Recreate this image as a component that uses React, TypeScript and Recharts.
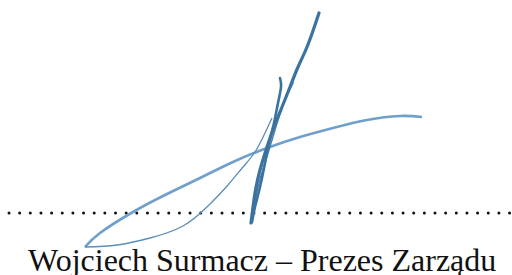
import React from 'react';
import { LineChart, Line, XAxis, YAxis, ReferenceLine } from 'recharts';

// signature strokes in pixel coordinates (y grows down)
const mainStroke = [
  { x: 319, y: 13 }, { x: 315, y: 25 }, { x: 307, y: 47 }, { x: 298, y: 67 },
  { x: 290, y: 87 }, { x: 282, y: 107 }, { x: 274, y: 127 }, { x: 267, y: 147 },
  { x: 260, y: 170 }, { x: 255, y: 193 }, { x: 251, y: 223 },
];
const hookStroke = [
  { x: 280, y: 78 }, { x: 281, y: 87 }, { x: 278, y: 103 }, { x: 274, y: 123 },
  { x: 269, y: 143 }, { x: 265, y: 163 }, { x: 260, y: 187 }, { x: 255, y: 207 },
  { x: 252, y: 222 },
];
const upStroke = [
  { x: 253, y: 213 }, { x: 258, y: 187 }, { x: 265, y: 163 }, { x: 272, y: 140 },
  { x: 278, y: 120 }, { x: 285, y: 100 }, { x: 293, y: 83 },
];
const sweepStroke = [
  { x: 422, y: 117 }, { x: 400, y: 116 }, { x: 367, y: 120 }, { x: 333, y: 128 },
  { x: 300, y: 137 }, { x: 267, y: 148 }, { x: 233, y: 162 }, { x: 200, y: 178 },
  { x: 167, y: 194 }, { x: 133, y: 212 }, { x: 100, y: 233 }, { x: 85, y: 247 },
];
const returnStroke = [
  { x: 85, y: 247 }, { x: 117, y: 245 }, { x: 150, y: 238 }, { x: 183, y: 226 },
  { x: 208, y: 206 }, { x: 228, y: 185 }, { x: 243, y: 167 }, { x: 255, y: 152 },
  { x: 265, y: 133 }, { x: 272, y: 118 },
];

const lineY = 213;
const lineStart = 9;
const caption = 'Wojciech Surmacz – Prezes Zarządu';

export default function App() {
  return (
    <div style={{ position: 'absolute', left: 0, top: 0, width: 512, height: 275, background: '#fff', overflow: 'hidden' }}>
      <LineChart width={512} height={275} margin={{ top: 0, right: 0, bottom: 0, left: 0 }}>
        <XAxis type="number" dataKey="x" domain={[0, 512]} hide />
        <YAxis type="number" dataKey="y" domain={[0, 275]} reversed hide />
        <ReferenceLine stroke="#111" strokeWidth={3} strokeDasharray="0 10.65" strokeLinecap="round"
          segment={[{ x: lineStart, y: lineY }, { x: 512, y: lineY }]} />
        <Line data={sweepStroke} dataKey="y" type="natural" stroke="#6f9fcb" strokeWidth={2.6} dot={false} activeDot={false} isAnimationActive={false} strokeLinecap="butt" />
        <Line data={returnStroke} dataKey="y" type="natural" stroke="#5b8db9" strokeWidth={1.3} dot={false} activeDot={false} isAnimationActive={false} strokeLinecap="butt" />
        <Line data={upStroke} dataKey="y" type="natural" stroke="#4a80ac" strokeWidth={1.5} dot={false} activeDot={false} isAnimationActive={false} strokeLinecap="round" />
        <Line data={hookStroke} dataKey="y" type="natural" stroke="#3b73a0" strokeWidth={2.6} dot={false} activeDot={false} isAnimationActive={false} strokeLinecap="round" />
        <Line data={mainStroke} dataKey="y" type="natural" stroke="#3a72a0" strokeWidth={3.2} dot={false} activeDot={false} isAnimationActive={false} strokeLinecap="round" />
      </LineChart>
      <div style={{ position: 'absolute', left: 28, top: 245, fontFamily: '"Liberation Serif", serif', fontSize: 32, lineHeight: '30px', color: '#111', whiteSpace: 'nowrap' }}>
        {caption}
      </div>
    </div>
  );
}
